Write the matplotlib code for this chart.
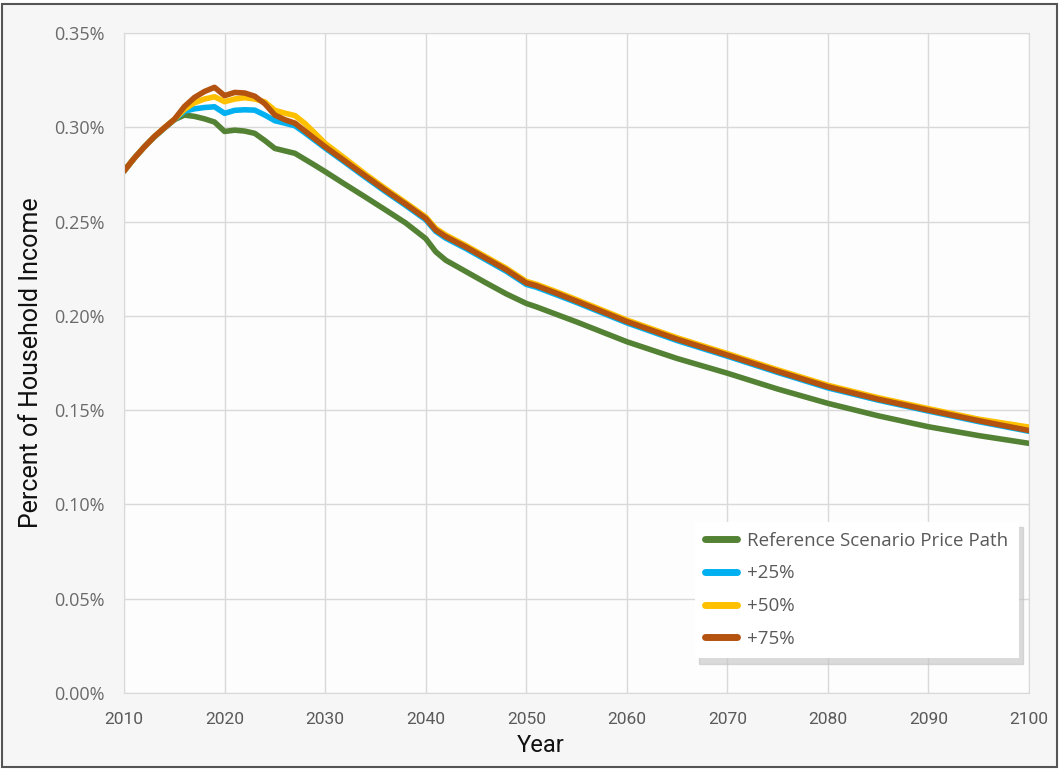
import matplotlib
matplotlib.use("Agg")
import matplotlib.pyplot as plt
from matplotlib.patches import Rectangle

# years (annual to 2030, sparser after)
years = list(range(2010, 2031)) + [2032, 2034, 2036, 2038, 2040, 2041, 2042, 2044, 2046, 2048,
                                    2050, 2051, 2053, 2055, 2060, 2065, 2070, 2075, 2080, 2085,
                                    2090, 2095, 2100]

# percent of household income
reference = [0.2768, 0.2835, 0.2895, 0.2948, 0.2995, 0.3040, 0.3065, 0.3058, 0.3045, 0.3028,
             0.2978, 0.2985, 0.2980, 0.2968, 0.2930, 0.2888, 0.2875, 0.2862, 0.2830, 0.2798,
             0.2765, 0.2697, 0.2630, 0.2562, 0.2493, 0.2410, 0.2340, 0.2295, 0.2235, 0.2175,
             0.2117, 0.2066, 0.2048, 0.2008, 0.1968, 0.1863, 0.1774, 0.1696, 0.1612, 0.1536,
             0.1470, 0.1412, 0.1365, 0.1324]
plus25 = [0.2768, 0.2835, 0.2895, 0.2949, 0.2996, 0.3041, 0.3085, 0.3098, 0.3105, 0.3109,
          0.3074, 0.3090, 0.3093, 0.3091, 0.3065, 0.3035, 0.3022, 0.3008, 0.2970, 0.2930,
          0.2890, 0.2813, 0.2735, 0.2659, 0.2586, 0.2510, 0.2448, 0.2412, 0.2357, 0.2297,
          0.2237, 0.2167, 0.2152, 0.2112, 0.2071, 0.1963, 0.1869, 0.1786, 0.1700, 0.1618,
          0.1553, 0.1495, 0.1439, 0.1388]
plus50 = [0.2768, 0.2835, 0.2895, 0.2950, 0.2997, 0.3042, 0.3095, 0.3130, 0.3150, 0.3162,
          0.3136, 0.3150, 0.3157, 0.3150, 0.3135, 0.3090, 0.3075, 0.3062, 0.3020, 0.2968,
          0.2915, 0.2834, 0.2752, 0.2675, 0.2601, 0.2525, 0.2464, 0.2429, 0.2373, 0.2313,
          0.2253, 0.2183, 0.2168, 0.2128, 0.2086, 0.1978, 0.1884, 0.1800, 0.1714, 0.1632,
          0.1566, 0.1508, 0.1452, 0.1410]
plus75 = [0.2768, 0.2835, 0.2895, 0.2950, 0.2997, 0.3042, 0.3110, 0.3158, 0.3190, 0.3212,
          0.3168, 0.3185, 0.3182, 0.3165, 0.3125, 0.3065, 0.3040, 0.3022, 0.2980, 0.2938,
          0.2897, 0.2820, 0.2742, 0.2666, 0.2593, 0.2517, 0.2455, 0.2420, 0.2365, 0.2305,
          0.2245, 0.2175, 0.2160, 0.2120, 0.2078, 0.1970, 0.1876, 0.1792, 0.1706, 0.1624,
          0.1558, 0.1500, 0.1444, 0.1392]

labels = ["Reference Scenario Price Path", "+25%", "+50%", "+75%"]
colors = ["#548235", "#00B0F0", "#FFC000", "#B4520F"]
x_ticks = list(range(2010, 2101, 10))
y_ticks = [0.00, 0.05, 0.10, 0.15, 0.20, 0.25, 0.30, 0.35]

fig = plt.figure(figsize=(10.6, 7.7), dpi=100, facecolor="white")
# outer frame of the picture
fig.patches.append(Rectangle((0.002, 0.004), 0.995, 0.991, transform=fig.transFigure,
                             facecolor="#f6f6f6", edgecolor="#555555", linewidth=1.5,
                             zorder=-10))

ax = fig.add_axes([0.117, 0.1, 0.8538, 0.8571])
ax.set_facecolor("#fdfdfd")

for vals, lab, col in zip([reference, plus25, plus50, plus75], labels, colors):
    ax.plot(years, vals, color=col, lw=4, label=lab, solid_capstyle="round",
            solid_joinstyle="round")

ax.set_xlim(2010, 2100)
ax.set_ylim(0, 0.35)
ax.set_xticks(x_ticks)
ax.set_yticks(y_ticks)
ax.set_yticklabels([f"{v:.2f}%" for v in y_ticks], fontfamily="Open Sans", fontsize=13,
                   color="#6a6a6a")
ax.set_xticklabels([str(v) for v in x_ticks], fontfamily="Roboto", fontsize=12.5,
                   color="#5a5a5a")
ax.tick_params(length=0, pad=14)
ax.grid(True, color="#d9d9d9", lw=1)
for s in ax.spines.values():
    s.set_color("#d9d9d9")

ax.set_xlabel("Year", fontfamily="Roboto", fontsize=17, color="#111111")
ax.xaxis.set_label_coords(0.46, -0.062)
ax.set_ylabel("Percent of Household Income", fontfamily="Roboto", fontsize=18,
              color="#111111")
ax.yaxis.set_label_coords(-0.09, 0.5)

leg = ax.legend(loc="upper right", bbox_to_anchor=(0.999, 0.274), frameon=True,
                fancybox=False, shadow={"color": "#c4c4c4", "alpha": 0.6, "ox": 3, "oy": -4},
                prop={"family": "Open Sans", "size": 13.5}, handlelength=1.7,
                handletextpad=0.55, labelspacing=0.78, borderpad=0.55, framealpha=1)
leg.get_frame().set_edgecolor("none")
for t in leg.get_texts():
    t.set_color("#595959")
for h in leg.get_lines():
    h.set_linewidth(5)

fig.savefig("out.png", dpi=100, facecolor=fig.get_facecolor())
